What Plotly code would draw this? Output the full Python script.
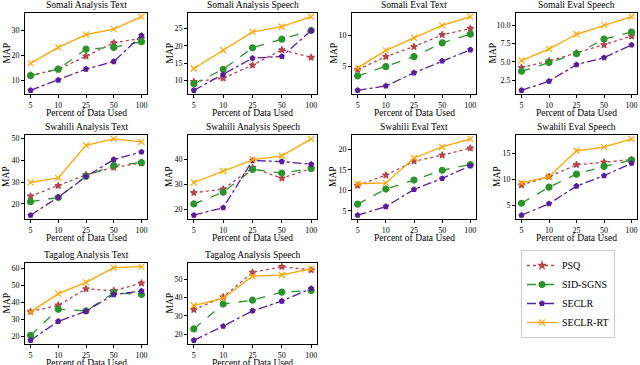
import plotly.graph_objects as go
from plotly.subplots import make_subplots

pct = ["5", "10", "25", "50", "100"]
methods = ["PSQ", "SID-SGNS", "SECLR", "SECLR-RT"]
titles = ["Somali Analysis Text", "Somali Analysis Speech", "Somali Eval Text", "Somali Eval Speech",
          "Swahili Analysis Text", "Swahili Analysis Speech", "Swahili Eval Text", "Swahili Eval Speech",
          "Tagalog Analysis Text", "Tagalog Analysis Speech"]

# values per panel, order: PSQ, SID-SGNS, SECLR, SECLR-RT
som_an_text = [[12.1, 14.4, 19.7, 25.0, 26.8], [11.9, 14.5, 22.5, 23.2, 25.5],
               [6.0, 10.1, 14.5, 17.5, 28.0], [16.8, 23.2, 28.3, 30.5, 35.5]]
som_an_speech = [[9.6, 10.6, 14.4, 18.8, 16.6], [9.0, 13.2, 19.4, 21.9, 24.4],
                 [7.1, 11.7, 16.4, 16.9, 24.4], [13.4, 18.7, 24.0, 25.5, 28.4]]
som_ev_text = [[4.5, 6.6, 8.2, 10.1, 11.1], [3.5, 5.0, 6.6, 8.8, 10.2],
               [1.2, 1.9, 4.0, 5.9, 7.7], [4.8, 7.6, 9.6, 11.6, 13.0]]
som_ev_speech = [[4.2, 5.1, 6.2, 7.3, 8.5], [3.7, 4.9, 6.1, 8.1, 9.05],
                 [1.1, 2.35, 4.6, 5.55, 7.3], [5.15, 6.75, 8.75, 10.0, 11.15]]
swa_an_text = [[23.5, 28.3, 33.3, 36.7, 38.7], [21.0, 22.9, 32.7, 37.6, 38.9],
               [14.8, 23.0, 32.5, 40.3, 43.8], [29.8, 31.9, 46.8, 49.8, 48.4]]
swa_an_speech = [[26.7, 28.1, 36.7, 32.5, 36.4], [22.2, 26.9, 36.0, 34.6, 36.4],
                 [17.7, 20.7, 39.6, 39.2, 38.1], [30.8, 35.4, 39.9, 41.5, 48.3]]
swa_ev_text = [[11.2, 13.7, 17.1, 18.6, 20.3], [6.6, 10.3, 12.5, 14.9, 16.3],
               [3.9, 6.0, 10.2, 12.9, 16.0], [11.6, 11.8, 17.9, 20.6, 22.6]]
swa_ev_speech = [[8.9, 10.5, 12.8, 13.3, 13.8], [5.4, 8.5, 11.0, 12.5, 13.7],
                 [3.1, 5.3, 8.7, 10.7, 13.1], [9.3, 10.5, 15.5, 16.2, 17.8]]
tag_an_text = [[34.5, 38.2, 47.8, 46.7, 51.2], [20.6, 35.9, 34.9, 45.5, 44.5],
               [17.7, 28.8, 34.7, 44.5, 46.5], [34.2, 45.0, 51.6, 60.2, 60.8]]
tag_an_speech = [[33.3, 40.2, 53.6, 56.7, 54.9], [22.9, 36.4, 38.5, 42.9, 43.8],
                 [16.7, 24.4, 32.7, 38.0, 44.9], [35.6, 39.6, 51.5, 52.2, 55.5]]

panels = [som_an_text, som_an_speech, som_ev_text, som_ev_speech,
          swa_an_text, swa_an_speech, swa_ev_text, swa_ev_speech,
          tag_an_text, tag_an_speech]
dticks = [10, 5, 5, 2.5, 10, 10, 5, 5, 10, 10]

colors = ["#b5464f", "#2a952a", "#5a1e9c", "#ffa500"]
dashes = ["dot", "dash", "dashdot", "solid"]
symbols = ["star", "circle", "pentagon", "x-thin"]
msizes = [5, 6, 5, 6]

W, H = 640, 365
xdom = [(25, 147), (188, 317), (352, 476), (516, 637)]
ydom = [(13, 94), (135, 219), (263, 344)]

fig = make_subplots(rows=3, cols=4)

for i, data in enumerate(panels):
    r, c = divmod(i, 4)
    for k, m in enumerate(methods):
        fig.add_trace(go.Scatter(
            x=pct, y=data[k], name=m, mode="lines+markers",
            line=dict(color=colors[k], dash=dashes[k], width=1.3),
            marker=dict(symbol=symbols[k], size=msizes[k], color=colors[k],
                        line=dict(color=colors[k], width=1.2)),
            showlegend=(i == 0)), row=r + 1, col=c + 1)
    lo = min(min(s) for s in data)
    hi = max(max(s) for s in data)
    pad = (hi - lo) * 0.05
    ax = "" if i == 0 else str(i + 1)
    fig.layout["xaxis" + ax].update(
        domain=[xdom[c][0] / W, xdom[c][1] / W], type="category", range=[-0.2, 4.2])
    fig.layout["yaxis" + ax].update(
        domain=[1 - ydom[r][1] / H, 1 - ydom[r][0] / H], range=[lo - pad, hi + pad],
        dtick=dticks[i], tickformat=".1f" if dticks[i] == 2.5 else "")
    # panel title, x title, y title
    cx = (xdom[c][0] + xdom[c][1]) / 2 / W
    fig.add_annotation(text=titles[i], xref="paper", yref="paper",
                       x=cx, y=1 - (ydom[r][0] - 8) / H,
                       xanchor="center", yanchor="middle", showarrow=False,
                       font=dict(size=9.5))
    fig.add_annotation(text="Percent of Data Used", xref="paper", yref="paper",
                       x=cx, y=1 - (ydom[r][1] + 19) / H,
                       xanchor="center", yanchor="middle", showarrow=False,
                       font=dict(size=9.5))
    off = 24 if dticks[i] == 2.5 else 19
    fig.add_annotation(text="MAP", xref="paper", yref="paper", textangle=-90,
                       x=(xdom[c][0] - off) / W, y=1 - (ydom[r][0] + ydom[r][1]) / 2 / H,
                       xanchor="center", yanchor="middle", showarrow=False,
                       font=dict(size=9.5))

for j in (11, 12):
    fig.layout["xaxis" + str(j)].update(visible=False)
    fig.layout["yaxis" + str(j)].update(visible=False)

fig.update_xaxes(showline=True, linecolor="black", linewidth=0.8, mirror=True,
                 ticks="outside", ticklen=3, tickcolor="black", showgrid=False,
                 zeroline=False, tickfont=dict(size=8), automargin=False)
fig.update_yaxes(showline=True, linecolor="black", linewidth=0.8, mirror=True,
                 ticks="outside", ticklen=3, tickcolor="black", showgrid=False,
                 zeroline=False, tickfont=dict(size=8), automargin=False)

fig.update_layout(
    width=W, height=H, margin=dict(l=0, r=0, t=0, b=0),
    paper_bgcolor="white", plot_bgcolor="white",
    font=dict(family="Liberation Serif", color="black", size=10),
    legend=dict(x=521 / W, y=1 - 294 / H, xanchor="left", yanchor="middle",
                bordercolor="#cccccc", borderwidth=1, bgcolor="white",
                font=dict(size=10), itemwidth=30, tracegroupgap=0),
)

# page body has a default 8px margin; drop it so the figure sits at 0,0
fig.write_html("out.html", config={"displayModeBar": False},
               post_script="document.body.style.margin='0';")
